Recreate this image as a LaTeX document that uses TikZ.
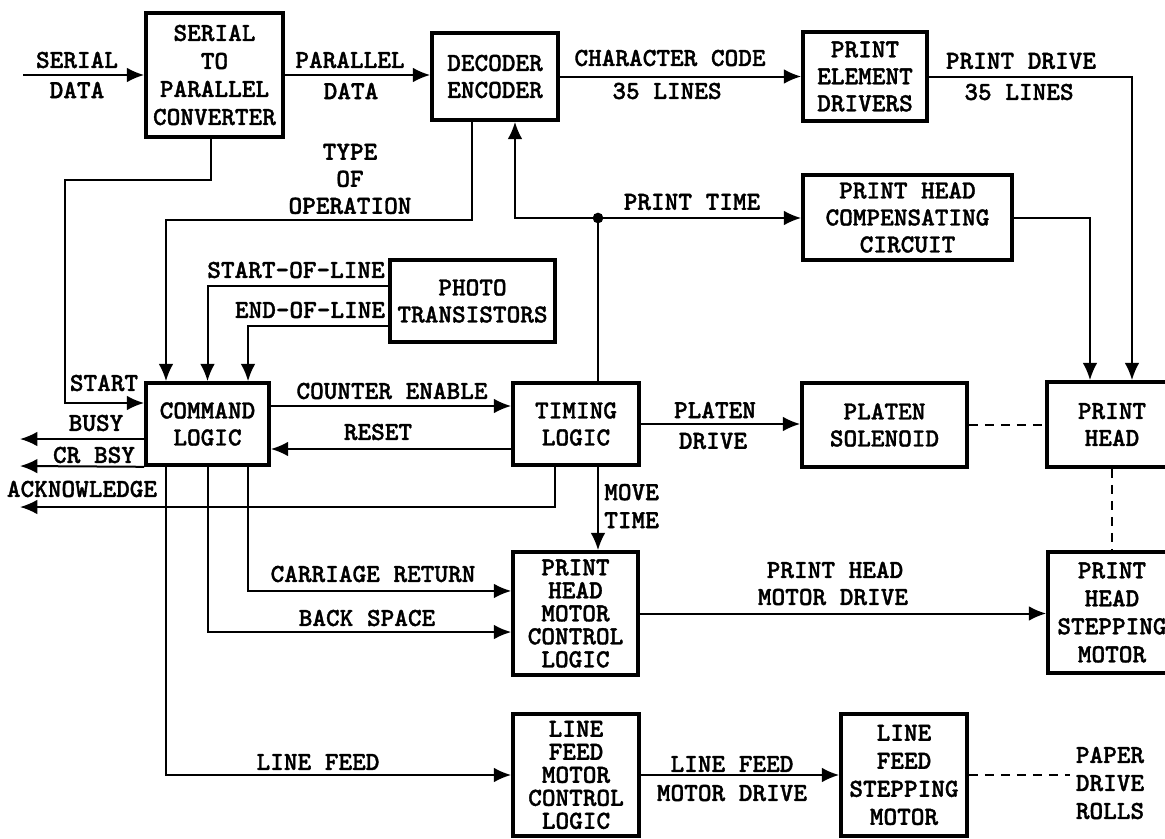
\documentclass[tikz,border=0pt]{standalone}
\usepackage{fontspec}
\newfontfamily\tw{lmmonolt10-bold.otf}[FakeBold=1.3]
\usetikzlibrary{arrows.meta}
\begin{document}
\begin{tikzpicture}[x=0.75pt,y=-0.75pt,
  font={\tw\fontsize{19.5}{20.25}\selectfont},
  box/.style={draw,line width=2.7pt,inner sep=0pt,align=center},
  tight/.style={font={\tw\fontsize{19.5}{17.25}\selectfont}},
  four/.style={font={\tw\fontsize{19.5}{21}\selectfont}},
  lab/.style={inner sep=0pt,align=center},
  wire/.style={line width=1.5pt},
  arr/.style={wire,-{Latex[length=13pt,width=11pt]}},
  dsh/.style={line width=1.5pt,dash pattern=on 7pt off 5pt}]
\clip (0,0) rectangle (1165,839);
\fill[white] (0,0) rectangle (1165,839);

% boxes
\node[box,four,minimum width=102.75pt,minimum height=93pt] (ser) at (214.5,75) {SERIAL\\TO\\PARALLEL\\CONVERTER};
\node[box,minimum width=94.5pt,minimum height=65.25pt] (dec) at (495,76.5) {DECODER\\ENCODER};
\node[box,minimum width=93pt,minimum height=66.75pt] (ped) at (865,76.5) {PRINT\\ELEMENT\\DRIVERS};
\node[box,minimum width=156.75pt,minimum height=63.75pt] (comp) at (907.5,217.5) {PRINT HEAD\\COMPENSATING\\CIRCUIT};
\node[box,minimum width=123.75pt,minimum height=61.5pt] (photo) at (472.5,301) {PHOTO\\TRANSISTORS};
\node[box,minimum width=92.25pt,minimum height=61.5pt] (cmd) at (207.5,424) {COMMAND\\LOGIC};
\node[box,minimum width=94.5pt,minimum height=61.5pt] (tim) at (576,424) {TIMING\\LOGIC};
\node[box,minimum width=123.75pt,minimum height=63pt] (plat) at (884.5,425) {PLATEN\\SOLENOID};
\node[box,minimum width=97.5pt,minimum height=63.75pt] (ph) at (1112,424.5) {PRINT\\HEAD};
\node[box,four,minimum width=96pt,minimum height=90.75pt] (phsm) at (1112,612.5) {PRINT\\HEAD\\STEPPING\\MOTOR};
\node[box,tight,minimum width=93.75pt,minimum height=92.25pt] (phmcl) at (575.5,613.5) {PRINT\\HEAD\\MOTOR\\CONTROL\\LOGIC};
\node[box,tight,minimum width=94.5pt,minimum height=91.5pt] (lfmcl) at (576,775) {LINE\\FEED\\MOTOR\\CONTROL\\LOGIC};
\node[box,four,minimum width=94.5pt,minimum height=91.5pt] (lfsm) at (904,775) {LINE\\FEED\\STEPPING\\MOTOR};

% labels
\node[lab] (lsd1) at (77,60) {SERIAL};
\node[lab] (lsd2) at (77,90) {DATA};
\node[lab] (lpd1) at (350,60) {PARALLEL};
\node[lab] (lpd2) at (351,91) {DATA};
\node[lab] (lcc1) at (670,58) {CHARACTER CODE};
\node[lab] (lcc2) at (667,91) {35 LINES};
\node[lab] (lpdr1) at (1021,61) {PRINT DRIVE};
\node[lab] (lpdr2) at (1019,92) {35 LINES};
\node[lab] (ltop) at (350,179) {TYPE\\OF\\OPERATION};
\node[lab] (lpt) at (692,202) {PRINT TIME};
\node[lab] (lsol) at (296,270) {START-OF-LINE};
\node[lab] (leol) at (310,310) {END-OF-LINE};
\node[lab] (lst) at (104,383) {START};
\node[lab] (lbusy) at (96,423) {BUSY};
\node[lab] (lcr) at (94,455) {CR BSY};
\node[lab] (lack) at (82,489) {ACKNOWLEDGE};
\node[lab] (lce) at (392,391) {COUNTER ENABLE};
\node[lab] (lrs) at (378,432) {RESET};
\node[lab] (lpl1) at (715,410) {PLATEN};
\node[lab] (lpl2) at (713,441) {DRIVE};
\node[lab,four,align=left,anchor=west] (lmt) at (604,506) {MOVE\\TIME};
\node[lab] (lcar) at (373,574) {CARRIAGE RETURN};
\node[lab] (lbs) at (367,618) {BACK SPACE};
\node[lab] (lphm1) at (835,570) {PRINT HEAD};
\node[lab] (lphm2) at (833,597) {MOTOR DRIVE};
\node[lab] (llf) at (318,762) {LINE FEED};
\node[lab] (llfm1) at (732,764) {LINE FEED};
\node[lab] (llfm2) at (732,793) {MOTOR DRIVE};
\node[lab,four,inner sep=4pt] (paper) at (1110,783) {PAPER\\DRIVE\\ROLLS};

% connectors
\coordinate (sdin) at (23,75);
\draw[arr] (sdin) -- (ser.west);
\draw[arr] (ser.east) -- (ser.east -| dec.west);
\draw[arr] (dec.east) -- (dec.east -| ped.west);
\draw[arr] (ped.east) -| ([xshift=15pt]ph.north);
\draw[arr] (comp.east) -| ([xshift=-16.5pt]ph.north);
\coordinate (j1) at (65,180);
\draw[arr] ([xshift=-3pt]ser.south) |- (j1) |- ([yshift=15.75pt]cmd.west);
\coordinate (j2) at (166,220);
\draw[arr] ([xshift=-17.25pt]dec.south) |- (j2) -- (j2 |- cmd.north);
\coordinate (ptj) at (598,218);
\draw[arr] (ptj) -| ([xshift=15pt]dec.south);
\draw[arr] (ptj) -- (ptj -| comp.west);
\draw[wire] (ptj) -- (ptj |- tim.north);
\fill (ptj) circle (4pt);
\draw[arr] ([yshift=11.25pt]photo.west) -| (cmd.north);
\draw[arr] ([yshift=-18.75pt]photo.west) -| ([xshift=30.4pt]cmd.north);
\draw[arr] ([yshift=13.5pt]cmd.east) -- ([yshift=13.5pt]tim.west);
\draw[arr] ([yshift=-18.75pt]tim.west) -- ([yshift=-18.75pt]cmd.east);
\draw[arr] (tim.east) -- (tim.east -| plat.west);
\draw[dsh] (plat.east) -- (plat.east -| ph.west);
\draw[dsh] (ph.south) -- (phsm.north);
\coordinate (busyend) at (20,439);
\draw[arr] ([yshift=-11.25pt]cmd.west) -- (busyend);
\coordinate (crend) at (20,466);
\draw[arr] (cmd.south west) -- (crend);
\coordinate (ackend) at (20,507);
\draw[arr] ([xshift=-15.75pt]tim.south) |- (ackend);
\draw[arr] ([xshift=16.5pt]tim.south) -- ([xshift=16.5pt]tim.south |- phmcl.north);
\draw[arr] ([xshift=30.4pt]cmd.south) |- ([yshift=16.9pt]phmcl.west);
\draw[arr] (cmd.south) |- ([yshift=-13.9pt]phmcl.west);
\draw[arr] ([xshift=-31.1pt]cmd.south) |- (lfmcl.west);
\draw[arr] (phmcl.east) -- (phmcl.east -| phsm.west);
\draw[arr] (lfmcl.east) -- (lfmcl.east -| lfsm.west);
\draw[dsh] (lfsm.east) -- (lfsm.east -| paper.west);
\end{tikzpicture}
\end{document}
